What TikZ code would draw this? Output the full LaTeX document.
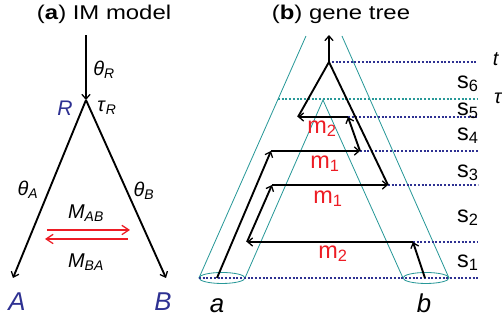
\documentclass[tikz,border=0pt]{standalone}
\usepackage{fontspec}
\setmainfont{Liberation Sans}
\newfontfamily\titlefont{Liberation Sans}[FakeStretch=1.2]
\usepackage{tkz-euclide}
\usetikzlibrary{arrows.meta}
\definecolor{navy}{RGB}{46,49,146}
\definecolor{tubecol}{RGB}{40,152,152}
\definecolor{migred}{RGB}{237,28,36}
\newcommand{\sub}[2]{#1\textsubscript{#2}}
\newcommand{\lblsize}[1]{\fontsize{#1}{#1}\selectfont}

\begin{document}
\begin{tikzpicture}[scale=0.03, yscale=-1,
    branch/.style={line width=1.6pt, black},
    branchto/.style={branch, -{Straight Barb[length=4pt,width=7pt,line width=1.1pt]}},
    migr/.style={line width=1.6pt, migred, -{Straight Barb[length=6pt,width=8pt,line width=1.1pt]}},
    tube/.style={line width=0.7pt, tubecol},
    level/.style={line width=1.6pt, navy, dash pattern=on 1.6pt off 1.6pt},
    taulevel/.style={level, tubecol},
    lbl/.style={inner sep=0pt, anchor=base}]
    \useasboundingbox (0,0) rectangle (502,322);
    % (a) IM model
    \tkzDefPoints{86/35/Rtop,86/100/R,13/278/A,166/278/B}
    \tkzDefPoints{47/230/MabL,130/230/MabR,128/239/MbaR,45/239/MbaL}
    \draw[branchto] (Rtop) -- (R);
    \draw[branchto] (R) -- (A);
    \draw[branchto] (R) -- (B);
    \draw[migr] (MabL) -- (MabR);
    \draw[migr] (MbaR) -- (MbaL);
    \node[lbl] (titleA) at (104,19) {\titlefont\lblsize{17}(\textbf{a}) IM model};
    \node[lbl, font=\lblsize{17}] (thR) at (104,75) {\sub{\textit{θ}}{\textit{R}}};
    \node[lbl, font=\lblsize{18}, text=navy] (labR) at (65,115) {\textit{R}};
    \node[lbl, font=\lblsize{17}] (tauR) at (107,111) {\sub{\textit{τ}}{\textit{R}}};
    \node[lbl, font=\lblsize{17}] (thA) at (28,195) {\sub{\textit{θ}}{\textit{A}}};
    \node[lbl, font=\lblsize{17}] (thB) at (144,196) {\sub{\textit{θ}}{\textit{B}}};
    \node[lbl, font=\lblsize{17}] (MAB) at (86,218) {\sub{\textit{M}}{\textit{AB}}};
    \node[lbl, font=\lblsize{17}] (MBA) at (86,267) {\sub{\textit{M}}{\textit{BA}}};
    \node[lbl, font=\lblsize{22}, text=navy] (labA) at (17,310) {\textit{A}};
    \node[lbl, font=\lblsize{22}, text=navy] (labB) at (163,310) {\textit{B}};

    % (b) gene tree
    \tkzDefPoints{199/278/oLa,306/36/oLb,449/278/oRa,342/36/oRb}
    \tkzDefPoints{245/278/iLa,323/100/iApex,403/278/iRa,222/278/Ea,426/278/Eb}
    \tkzDefPoints{329/62/root,329/35/rootTop,217/278/a0,271/151/a1,360/151/c1,348/117/c2,298/117/c3}
    \tkzDefPoints{425/278/b0,413/242/b1,247/242/d1,272/185/d2,388/185/d3}
    \tkzDefPoints{332/62/t0,278/99/tau0}
    \tkzDefPoints{478/62/xT,478/99/xTau,478/117/x5,478/151/x4,478/185/x3,478/242/x2,478/278/x1}
    \draw[tube] (oLa) -- (oLb);
    \draw[tube] (oRa) -- (oRb);
    \draw[tube] (iLa) -- (iApex) -- (iRa);
    \draw[tube] (Ea) ellipse [x radius=23, y radius=5.5];
    \draw[tube] (Eb) ellipse [x radius=23, y radius=5.5];
    \draw[level] (t0) -- (xT);
    \draw[taulevel] (tau0) -- (xTau);
    \draw[level] (c2) -- (x5);
    \draw[level] (c1) -- (x4);
    \draw[level] (d3) -- (x3);
    \draw[level] (b1) -- (x2);
    \draw[level] (oLa) -- (x1);
    \draw[branchto] (root) -- (rootTop);
    \draw[branchto] (a0) -- (a1);
    \draw[branchto] (a1) -- (c1);
    \draw[branchto] (c1) -- (c2);
    \draw[branchto] (c2) -- (c3);
    \draw[branch] (c3) -- (root) -- (d3);
    \draw[branchto] (b0) -- (b1);
    \draw[branchto] (b1) -- (d1);
    \draw[branchto] (d1) -- (d2);
    \draw[branchto] (d2) -- (d3);
    \node[lbl] (titleB) at (341,19) {\titlefont\lblsize{17}(\textbf{b}) gene tree};
    \node[lbl, font=\lblsize{22}] (laba) at (217,312) {\textit{a}};
    \node[lbl, font=\lblsize{22}] (labb) at (424,312) {\textit{b}};
    \node[lbl, font=\lblsize{17}] (labt) at (496,65) {\textit{t}};
    \node[lbl, font=\lblsize{17}, anchor=base west] (labtau) at (494,103) {\textit{τ}};
    \node[lbl, font=\lblsize{20}, anchor=base west] (s6) at (457,88) {\sub{s}{6}};
    \node[lbl, font=\lblsize{20}, anchor=base west] (s5) at (457,115) {\sub{s}{5}};
    \node[lbl, font=\lblsize{20}, anchor=base west] (s4) at (457,140) {\sub{s}{4}};
    \node[lbl, font=\lblsize{20}, anchor=base west] (s3) at (457,177) {\sub{s}{3}};
    \node[lbl, font=\lblsize{20}, anchor=base west] (s2) at (457,222) {\sub{s}{2}};
    \node[lbl, font=\lblsize{20}, anchor=base west] (s1) at (457,267) {\sub{s}{1}};
    \node[lbl, font=\lblsize{20}, text=migred] (m2up) at (322,133) {\sub{m}{2}};
    \node[lbl, font=\lblsize{20}, text=migred] (m1up) at (325,168) {\sub{m}{1}};
    \node[lbl, font=\lblsize{20}, text=migred] (m1lo) at (328,203) {\sub{m}{1}};
    \node[lbl, font=\lblsize{20}, text=migred] (m2lo) at (333,258) {\sub{m}{2}};
\end{tikzpicture}
\end{document}
